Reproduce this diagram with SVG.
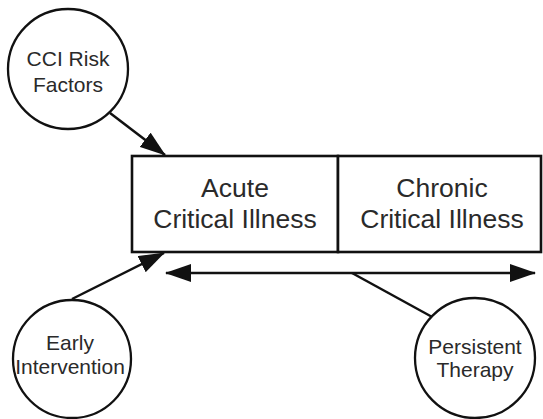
<svg xmlns="http://www.w3.org/2000/svg" width="543" height="419" viewBox="0 0 543 419">
<style>
.c{fill:#fff;stroke:#111;stroke-width:2.3}
.b{fill:#fff;stroke:#111;stroke-width:2.6}
.l{fill:none;stroke:#111;stroke-width:2.5}
text{font-family:"Liberation Sans",Arial,sans-serif;fill:#2a2a2a;text-anchor:middle}
.big{font-size:26.5px}
.sm{font-size:21px}
</style>
<defs>
<marker id="ah" markerUnits="userSpaceOnUse" markerWidth="26" markerHeight="18" refX="25" refY="9" orient="auto-start-reverse">
<path d="M0,0 L26,9 L0,18 z" fill="#111"/>
</marker>
</defs>
<rect width="543" height="419" fill="#fff"/>
<g id="connectors">
<line class="l" x1="110" y1="113" x2="165" y2="155" marker-end="url(#ah)"/>
<line class="l" x1="72" y1="299" x2="164" y2="253" marker-end="url(#ah)"/>
<line class="l" x1="166" y1="273" x2="535" y2="273" marker-start="url(#ah)" marker-end="url(#ah)"/>
<line class="l" x1="352" y1="273" x2="434" y2="318"/>
</g>
<g id="acute">
<rect class="b" x="132" y="156" width="206" height="96"/>
<text class="big" x="235" y="197">Acute</text>
<text class="big" x="235" y="228">Critical Illness</text>
</g>
<g id="chronic">
<rect class="b" x="338" y="156" width="203" height="96"/>
<text class="big" x="442" y="197">Chronic</text>
<text class="big" x="442" y="228">Critical Illness</text>
</g>
<g id="cci">
<circle class="c" cx="68" cy="69" r="60"/>
<text class="sm" x="68" y="66">CCI Risk</text>
<text class="sm" x="68" y="92">Factors</text>
</g>
<g id="early">
<circle class="c" cx="72" cy="359" r="59"/>
<text class="sm" x="70" y="350">Early</text>
<text class="sm" x="70" y="374">Intervention</text>
</g>
<g id="persistent">
<circle class="c" cx="475" cy="358" r="60"/>
<text class="sm" x="475" y="354">Persistent</text>
<text class="sm" x="475" y="377">Therapy</text>
</g>
</svg>
